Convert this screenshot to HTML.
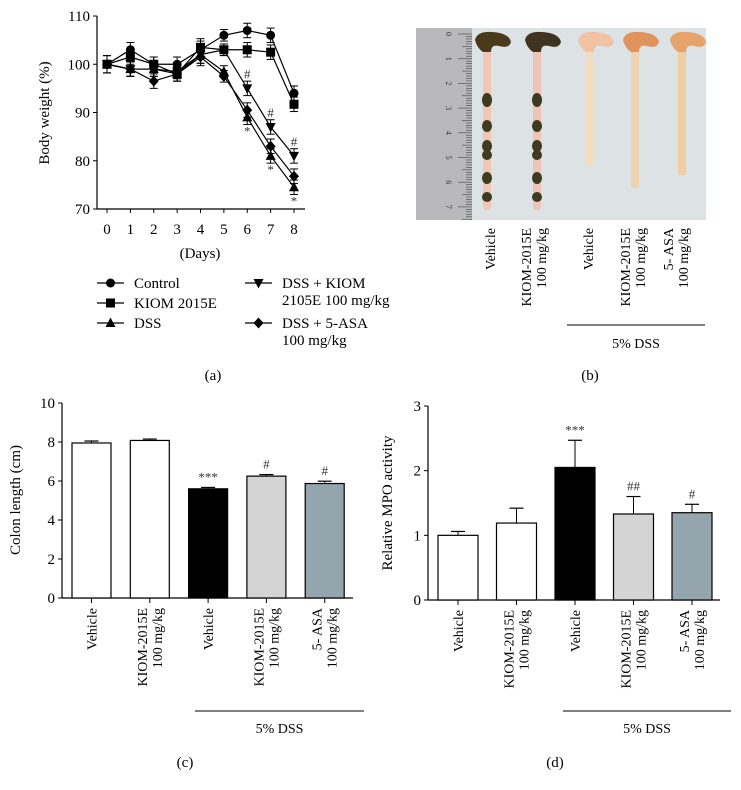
<!DOCTYPE html>
<html><head><meta charset="utf-8"><style>
body{margin:0;background:#fff}
svg{display:block;font-family:"Liberation Serif",serif}
</style></head><body>
<svg id="fig" width="741" height="790" viewBox="0 0 741 790" xmlns="http://www.w3.org/2000/svg">
<g id="pa"></g>
<g id="pb">
  <rect x="416" y="28" width="290" height="192" fill="#dde3e4"/>
  <rect x="416" y="28" width="56" height="192" fill="#b9b9bb"/>
  <g id="ruler-ticks"></g>
  <g id="colons"></g>
</g>
<g id="pc"></g>
<g id="pd"></g>
</svg>
<script>
// ---- Panel a data ----
const days = [0,1,2,3,4,5,6,7,8];
const seriesNames = ["Control","KIOM 2015E","DSS","DSS + KIOM 2105E 100 mg/kg","DSS + 5-ASA 100 mg/kg"];
const controlVals = [100,103,100,100,103,106,107,106,94];
const kiomVals = [100,101.5,100,98,103.5,103,103,102.5,91.7];
const dssVals = [100,99,99,98,102,98.5,89,81,74.5];
const dssKiomVals = [100,99,99,98.5,102,103,95,87,81];
const dssAsaVals = [100,99,96.5,98,101.5,97.5,90.5,83,76.8];
const weightErr = [1.8,1.5,1.5,1.5,1.8,1.2,1.5,1.5,1.5];
const weightTicks = [70,80,90,100,110];
// ---- Panel c/d data ----
const barCats = [["Vehicle"],["KIOM-2015E","100 mg/kg"],["Vehicle"],["KIOM-2015E","100 mg/kg"],["5- ASA","100 mg/kg"]];
const colonLen = [7.95,8.08,5.6,6.25,5.87];
const colonErr = [0.1,0.07,0.07,0.08,0.12];
const colonSig = ["","","***","#","#"];
const colonTicks = [0,2,4,6,8,10];
const mpoVals = [1.0,1.19,2.05,1.33,1.35];
const mpoErr = [0.06,0.23,0.42,0.27,0.13];
const mpoSig = ["","","***","##","#"];
const mpoTicks = [0,1,2,3];
const barFills = ["#ffffff","#ffffff","#000000","#d4d4d4","#95a5ad"];

const NS="http://www.w3.org/2000/svg";
function mk(parent,tag,attrs,text){const e=document.createElementNS(NS,tag);for(const k in attrs)e.setAttribute(k,attrs[k]);if(text!==undefined)e.textContent=text;parent.appendChild(e);return e;}

// ===== Panel a =====
const pa=document.getElementById('pa');
const ax=d=>107+d*(294-107)/8;
const ay=v=>209-(v-70)*(209-16)/40;
let e;
e=mk(pa,'line',{x1:97,y1:16,x2:97,y2:209,stroke:'#000','stroke-width':1.2});

e=mk(pa,'line',{x1:97,y1:209,x2:305,y2:209,stroke:'#000','stroke-width':1.2});

weightTicks.forEach(t=>{mk(pa,'line',{x1:93,y1:ay(t),x2:97,y2:ay(t),stroke:'#000'});
 e=mk(pa,'text',{x:90,y:ay(t)+5,'text-anchor':'end','font-size':15},t);
 });
days.forEach(d=>{mk(pa,'line',{x1:ax(d),y1:209,x2:ax(d),y2:213,stroke:'#000'});
 e=mk(pa,'text',{x:ax(d),y:234,'text-anchor':'middle','font-size':15},d);
 });
e=mk(pa,'text',{x:200,y:258,'text-anchor':'middle','font-size':15},'(Days)');

e=mk(pa,'text',{x:0,y:0,transform:'translate(49,113) rotate(-90)','text-anchor':'middle','font-size':15},'Body weight (%)');

function marker(g,type,x,y){
 if(type==='circle')return mk(g,'circle',{cx:x,cy:y,r:4.5,fill:'#000'});
 if(type==='square')return mk(g,'rect',{x:x-4.5,y:y-4.5,width:9,height:9,fill:'#000'});
 if(type==='up')return mk(g,'polygon',{points:`${x},${y-5.5} ${x-5},${y+4} ${x+5},${y+4}`,fill:'#000'});
 if(type==='down')return mk(g,'polygon',{points:`${x},${y+5.5} ${x-5},${y-4} ${x+5},${y-4}`,fill:'#000'});
 return mk(g,'polygon',{points:`${x},${y-5.5} ${x+5},${y} ${x},${y+5.5} ${x-5},${y}`,fill:'#000'});
}
const allSeries=[controlVals,kiomVals,dssVals,dssKiomVals,dssAsaVals];
const markerTypes=['circle','square','up','down','diamond'];
const seriesKeys=['control','kiom-2015e','dss','dss-kiom','dss-5asa'];
allSeries.forEach((vals,si)=>{
 const g=mk(pa,'g',{});
 
 
 mk(g,'polyline',{points:vals.map((v,i)=>ax(days[i])+','+ay(v)).join(' '),fill:'none',stroke:'#000','stroke-width':1.2});
 vals.forEach((v,i)=>{const x=ax(days[i]),y1=ay(v+weightErr[i]),y2=ay(v-weightErr[i]);
  mk(g,'line',{x1:x,y1:y1,x2:x,y2:y2,stroke:'#000'});
  mk(g,'line',{x1:x-4,y1:y1,x2:x+4,y2:y1,stroke:'#000'});
  mk(g,'line',{x1:x-4,y1:y2,x2:x+4,y2:y2,stroke:'#000'});
  const m=marker(g,markerTypes[si],x,ay(v));
  
  });
});
[[6,dssKiomVals,'#',-1],[7,dssKiomVals,'#',-1],[8,dssKiomVals,'#',-1],[6,dssVals,'*',1],[7,dssVals,'*',1],[8,dssVals,'*',1]].forEach(([d,vals,s,dir])=>{
 const v=vals[d];const y=dir<0?ay(v)-10:ay(v)+18;
 e=mk(pa,'text',{x:ax(d),y:y,'text-anchor':'middle','font-size':13,fill:'#333'},s);
 
});
// legend
const legPos=[[97,283],[97,303],[97,323],[245,283],[245,323]];
const legText=[["Control"],["KIOM 2015E"],["DSS"],["DSS + KIOM","2105E 100 mg/kg"],["DSS + 5-ASA","100 mg/kg"]];
legPos.forEach(([x,y],i)=>{const g=mk(pa,'g',{});
 
 
 mk(g,'line',{x1:x,y1:y,x2:x+27,y2:y,stroke:'#000','stroke-width':1.2});
 marker(g,markerTypes[i],x+13.5,y);
 legText[i].forEach((t,j)=>mk(g,'text',{x:x+37,y:y+5+j*17,'font-size':15},t));});
e=mk(pa,'text',{x:213,y:380,'text-anchor':'middle','font-size':15},'(a)');


// ===== Panel b =====
const rt=document.getElementById('ruler-ticks');
for(let i=0;i<=75;i++){const y=34+i*2.47;const L=i%10===0?14:(i%5===0?10:6);
 mk(rt,'line',{x1:472-L,y1:y,x2:472,y2:y,stroke:'#555','stroke-width':0.7});}
for(let i=0;i<=7;i++){e=mk(rt,'text',{x:0,y:0,transform:`translate(446,${34+i*24.7}) rotate(90)`,'text-anchor':'middle','font-size':8,fill:'#333'},i);}
const cl=document.getElementById('colons');
const colonSpecs=[[487,210,'#f0c7b6',true,'#4a3a1c'],[537,210,'#efc4b8',true,'#3e3420'],[590,166,'#f3dcc0',false,'#f1c2a4'],[635,188,'#efd3b0',false,'#e0935c'],[682,175,'#efcfa0',false,'#e6a36a']];
colonSpecs.forEach(([x,bot,col,dark,head],i)=>{const g=mk(cl,'g',{});
 
 
 mk(g,'rect',{x:x-4,y:45,width:8,height:bot-45,rx:3,fill:col});
 mk(g,'path',{d:`M${x-12},40 Q${x-10},31 ${x+5},32 Q${x+22},33 ${x+24},42 Q${x+22},49 ${x+12},46 Q${x+4},44 ${x+4},52 L${x-4},52 Q${x-10},48 ${x-12},40 Z`,fill:head});
 if(dark){[[100,7],[126,6],[146,6],[155,5],[178,6],[197,5]].forEach(([y,r])=>mk(g,'ellipse',{cx:x,cy:y,rx:5,ry:r,fill:'#3f3a20'}));}
});
const photoLabels=[[["Vehicle"],495],[["KIOM-2015E","100 mg/kg"],538],[["Vehicle"],593],[["KIOM-2015E","100 mg/kg"],637],[["5- ASA","100 mg/kg"],680]];
photoLabels.forEach(([lines,x])=>{lines.forEach((t,j)=>{
 e=mk(pa,'text',{x:0,y:0,transform:`translate(${x+(lines.length>1?(j?8:-7):0)},228) rotate(-90)`,'text-anchor':'end','font-size':14},t);
 });});
e=mk(pa,'line',{x1:567,y1:325,x2:705,y2:325,stroke:'#000'});

e=mk(pa,'text',{x:636,y:348,'text-anchor':'middle','font-size':14},'5% DSS');

e=mk(pa,'text',{x:590,y:380,'text-anchor':'middle','font-size':15},'(b)');


// ===== Bar charts =====
function barChart(id,o){
 const g=document.getElementById(id);
 const y=v=>o.y0-(v/o.max)*(o.y0-o.yTop);
 e=mk(g,'line',{x1:o.ax,y1:o.yTop,x2:o.ax,y2:o.y0,stroke:'#000','stroke-width':1.2});
 
 e=mk(g,'line',{x1:o.ax,y1:o.y0,x2:o.axEnd,y2:o.y0,stroke:'#000','stroke-width':1.2});
 
 o.ticks.forEach(t=>{mk(g,'line',{x1:o.ax-4,y1:y(t),x2:o.ax,y2:y(t),stroke:'#000'});
  e=mk(g,'text',{x:o.ax-7,y:y(t)+5,'text-anchor':'end','font-size':15},t);
  });
 e=mk(g,'text',{x:0,y:0,transform:`translate(${o.titleX},${o.titleY}) rotate(-90)`,'text-anchor':'middle','font-size':15},o.title);
 
 o.vals.forEach((v,i)=>{const x0=o.bx0+i*o.step,cx=x0+o.bw/2;
  const top=y(v),et=y(v+o.err[i]);
  mk(g,'line',{x1:cx,y1:top,x2:cx,y2:et,stroke:'#000'});
  mk(g,'line',{x1:cx-7,y1:et,x2:cx+7,y2:et,stroke:'#000','stroke-width':1.2});
  const r=mk(g,'rect',{x:x0,y:top,width:o.bw,height:o.y0-top,fill:barFills[i],stroke:'#000','stroke-width':1.2});
  
  
  if(o.sig[i]){e=mk(g,'text',{x:cx,y:et-6,'text-anchor':'middle','font-size':13,fill:'#333'},o.sig[i]);
   }
  mk(g,'line',{x1:cx,y1:o.y0,x2:cx,y2:o.y0+5,stroke:'#000'});
  const lines=barCats[i];
  lines.forEach((t,j)=>{e=mk(g,'text',{x:0,y:0,transform:`translate(${cx+(lines.length>1?(j?12:-3):5)},${o.y0+10}) rotate(-90)`,'text-anchor':'end','font-size':14},t);
   });
 });
 e=mk(g,'line',{x1:o.lx1,y1:711,x2:o.lx2,y2:711,stroke:'#000'});
 
 e=mk(g,'text',{x:(o.lx1+o.lx2)/2,y:733,'text-anchor':'middle','font-size':14},'5% DSS');
 
 e=mk(g,'text',{x:o.panelX,y:767,'text-anchor':'middle','font-size':15},o.panel);
 
}
barChart('pc',{ax:62,axEnd:353,y0:598,yTop:403,max:10,ticks:colonTicks,vals:colonLen,err:colonErr,sig:colonSig,bx0:72,bw:39,step:58.3,title:'Colon length (cm)',titleX:20,titleY:500,lx1:195,lx2:364,panelX:185,panel:'(c)'});
barChart('pd',{ax:428,axEnd:720,y0:600,yTop:406,max:3,ticks:mpoTicks,vals:mpoVals,err:mpoErr,sig:mpoSig,bx0:438,bw:40,step:58.5,title:'Relative MPO activity',titleX:392,titleY:503,lx1:563,lx2:731,panelX:555,panel:'(d)'});
</script>
</body></html>
